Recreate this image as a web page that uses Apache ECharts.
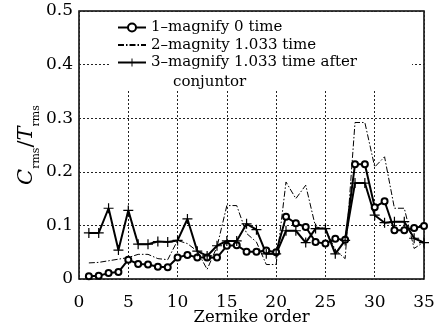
<!DOCTYPE html>
<html>
<head>
<meta charset="utf-8">
<script src="https://cdn.jsdelivr.net/npm/echarts@6/dist/echarts.min.js"></script>
<style>
  html, body { margin: 0; padding: 0; background: #fff; }
  #chart { width: 435px; height: 329px; }
</style>
</head>
<body>
<div id="chart"></div>
<script>
// Zernike orders 1..35
const orders = [1, 2, 3, 4, 5, 6, 7, 8, 9, 10, 11, 12, 13, 14, 15, 16, 17, 18, 19, 20,
  21, 22, 23, 24, 25, 26, 27, 28, 29, 30, 31, 32, 33, 34, 35];

// 1-magnify 0 time (circles)
const magnify0 = [0.005, 0.006, 0.011, 0.013, 0.036, 0.028, 0.027, 0.023, 0.022, 0.040,
  0.045, 0.040, 0.040, 0.040, 0.062, 0.063, 0.051, 0.051, 0.053, 0.050,
  0.116, 0.104, 0.097, 0.069, 0.066, 0.075, 0.073, 0.214, 0.214, 0.134,
  0.145, 0.091, 0.091, 0.095, 0.099];

// 2-magnity 1.033 time (dash-dot)
const magnify1033 = [0.030, 0.031, 0.034, 0.037, 0.040, 0.046, 0.046, 0.038, 0.036, 0.072,
  0.066, 0.052, 0.018, 0.060, 0.137, 0.137, 0.085, 0.069, 0.027, 0.027,
  0.181, 0.150, 0.175, 0.097, 0.094, 0.054, 0.038, 0.292, 0.292, 0.209,
  0.228, 0.132, 0.132, 0.057, 0.069];

// 3-magnify 1.033 time after conjuntor (plus)
const afterConj = [0.086, 0.086, 0.132, 0.054, 0.128, 0.065, 0.065, 0.070, 0.069, 0.072,
  0.112, 0.052, 0.043, 0.062, 0.071, 0.071, 0.103, 0.092, 0.047, 0.047,
  0.090, 0.090, 0.068, 0.094, 0.094, 0.047, 0.072, 0.179, 0.179, 0.119,
  0.105, 0.107, 0.107, 0.076, 0.068];

const seriesNames = ['1\u2013magnify 0 time', '2\u2013magnity 1.033 time', '3\u2013magnify 1.033 time after'];

const serif = 'DejaVu Serif';
const plusPath = 'path://M-0.6,-5H0.6V-0.6H5V0.6H0.6V5H-0.6V0.6H-5V-0.6H-0.6Z';

const pairs = arr => orders.map((x, i) => [x, arr[i]]);

const chart = echarts.init(document.getElementById('chart'), null, { renderer: 'canvas' });

chart.setOption({
  animation: false,
  backgroundColor: '#fff',
  textStyle: { fontFamily: serif, color: '#000' },
  grid: {
    left: 79, right: 11, top: 11, bottom: 50,
    outerBoundsMode: 'none',
    show: true, borderColor: '#000', borderWidth: 1.5, backgroundColor: '#fff'
  },
  legend: {
    orient: 'vertical',
    left: 110,
    top: 12,
    padding: [8, 55, 20, 7],
    backgroundColor: '#fff',
    itemWidth: 28,
    itemHeight: 10,
    itemGap: 2.5,
    textStyle: { fontFamily: serif, fontSize: 15, color: '#000' },
    data: [
      { name: seriesNames[0] },
      { name: seriesNames[1], itemStyle: { opacity: 0 } },
      { name: seriesNames[2] }
    ]
  },
  graphic: [{
    type: 'text',
    left: 173,
    top: 75,
    z: 100,
    style: { text: 'conjuntor', font: '15px "DejaVu Serif"', fill: '#000' }
  }],
  xAxis: {
    type: 'value',
    min: 0, max: 35, interval: 5,
    name: 'Zernike order',
    nameLocation: 'middle',
    nameGap: 30,
    nameMoveOverlap: false,
    nameTextStyle: { fontFamily: serif, fontSize: 16.5, color: '#000' },
    axisLine: { show: false },
    axisTick: { show: false },
    axisLabel: { fontFamily: serif, fontSize: 17, color: '#000', margin: 15 },
    splitLine: { show: true, lineStyle: { color: '#222', type: [2, 2], width: 1 } }
  },
  yAxis: {
    type: 'value',
    min: 0, max: 0.5, interval: 0.1,
    name: '{i|C}{s|rms}{n|/}{i|T}{s|rms}',
    nameLocation: 'middle',
    nameGap: 37,
    nameMoveOverlap: false,
    nameRotate: 90,
    nameTextStyle: {
      rich: {
        i: { fontFamily: serif, fontSize: 21, fontStyle: 'italic', color: '#000', lineHeight: 30, verticalAlign: 'middle' },
        n: { fontFamily: serif, fontSize: 21, color: '#000', lineHeight: 30, verticalAlign: 'middle' },
        s: { fontFamily: serif, fontSize: 11, color: '#000', lineHeight: 30, verticalAlign: 'bottom' }
      }
    },
    axisLine: { show: false },
    axisTick: { show: false },
    axisLabel: { fontFamily: serif, fontSize: 17, color: '#000', margin: 6 },
    splitLine: { show: true, lineStyle: { color: '#222', type: [2, 2], width: 1 } }
  },
  series: [
    {
      name: seriesNames[0],
      type: 'line',
      data: pairs(magnify0),
      symbol: 'emptyCircle',
      symbolSize: 6,
      lineStyle: { color: '#000', width: 2 },
      itemStyle: { color: '#000', borderColor: '#000', borderWidth: 1.5 },
      z: 4
    },
    {
      name: seriesNames[1],
      type: 'line',
      data: pairs(magnify1033),
      symbol: 'none',
      lineStyle: { color: '#000', width: 1, type: [6, 2, 1.5, 2] },
      itemStyle: { color: '#000' },
      z: 3
    },
    {
      name: seriesNames[2],
      type: 'line',
      data: pairs(afterConj),
      symbol: plusPath,
      symbolSize: 10,
      lineStyle: { color: '#000', width: 2 },
      itemStyle: { color: '#000' },
      z: 4
    }
  ]
});
</script>
</body>
</html>
